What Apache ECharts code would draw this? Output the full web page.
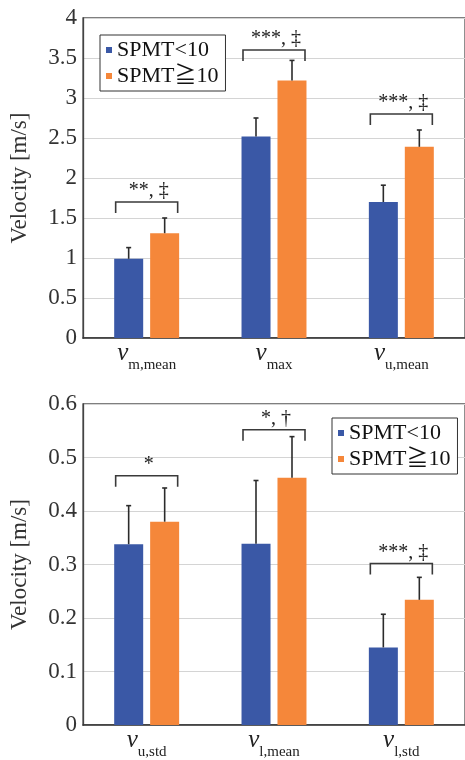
<!DOCTYPE html>
<html>
<head>
<meta charset="utf-8">
<script src="https://cdn.jsdelivr.net/npm/echarts@6/dist/echarts.min.js"></script>
<style>
  html, body { margin: 0; padding: 0; background: #ffffff; }
  #chart { width: 465px; height: 760px; }
</style>
</head>
<body>
<div id="chart"></div>
<script>
const seriesNames = ["SPMT<10", "SPMT\u226710"];

// upper panel
const topCategories = ["m,mean", "max", "u,mean"];
const topLow = [0.99, 2.52, 1.70];
const topLowSd = [0.14, 0.23, 0.21];
const topHigh = [1.31, 3.22, 2.39];
const topHighSd = [0.19, 0.25, 0.21];
const topSigLevel = [1.70, 3.60, 2.80];
const topSigText = ["**, \u2021", "***, \u2021", "***, \u2021"];

// lower panel
const bottomCategories = ["u,std", "l,mean", "l,std"];
const bottomLow = [0.338, 0.339, 0.145];
const bottomLowSd = [0.072, 0.118, 0.062];
const bottomHigh = [0.380, 0.462, 0.234];
const bottomHighSd = [0.063, 0.077, 0.042];
const bottomSigLevel = [0.466, 0.552, 0.302];
const bottomSigText = ["*", "*, \u2020", "***, \u2021"];

const blue = "#3a58a6";
const orange = "#f5873a";
const serif = "'Liberation Serif', 'Noto Sans CJK JP', serif";

const chart = echarts.init(document.getElementById("chart"));

function errorSeries(idx, values, sds, offset) {
  return {
    type: "custom",
    xAxisIndex: idx,
    yAxisIndex: idx,
    silent: true,
    z: 5,
    data: values.map((v, i) => [i, v, sds[i]]),
    renderItem: (params, api) => {
      const base = api.coord([api.value(0), api.value(1)]);
      const top = api.coord([api.value(0), api.value(1) + api.value(2)]);
      const x = base[0] + offset;
      const style = { stroke: "#2b2b2b", lineWidth: 1.6 };
      return {
        type: "group",
        children: [
          { type: "line", shape: { x1: x, y1: base[1], x2: x, y2: top[1] }, style },
          { type: "line", shape: { x1: x - 2.5, y1: top[1], x2: x + 2.5, y2: top[1] }, style }
        ]
      };
    }
  };
}

function bracketSeries(idx, levels, texts) {
  return {
    type: "custom",
    xAxisIndex: idx,
    yAxisIndex: idx,
    silent: true,
    z: 6,
    data: levels.map((v, i) => [i, v]),
    renderItem: (params, api) => {
      const p = api.coord([api.value(0), api.value(1)]);
      const half = 31;
      const drop = 11;
      return {
        type: "group",
        children: [
          {
            type: "polyline",
            shape: { points: [[p[0] - half, p[1] + drop], [p[0] - half, p[1]], [p[0] + half, p[1]], [p[0] + half, p[1] + drop]] },
            style: { stroke: "#3a3a3a", lineWidth: 1.6, fill: null }
          },
          {
            type: "text",
            style: {
              text: texts[params.dataIndex],
              x: p[0] + 2,
              y: p[1] - 1,
              align: "center",
              verticalAlign: "bottom",
              font: "20px " + serif,
              fill: "#222"
            }
          }
        ]
      };
    }
  };
}

function barSeries(idx, name, values, color) {
  return {
    type: "bar",
    name: name,
    xAxisIndex: idx,
    yAxisIndex: idx,
    data: values,
    barWidth: 29,
    barGap: "24%",
    itemStyle: { color: color }
  };
}

function xAxis(idx, cats) {
  return {
    type: "category",
    gridIndex: idx,
    data: cats,
    axisTick: { show: false },
    axisLine: { lineStyle: { color: "#333", width: 1.5 } },
    axisLabel: {
      margin: 3,
      formatter: (v) => "{v|v}{s|" + v + "}",
      rich: {
        v: { fontFamily: serif, fontStyle: "italic", fontSize: 25, color: "#222", padding: [0, 0, 7, 0], verticalAlign: "bottom" },
        s: { fontFamily: serif, fontSize: 15, color: "#222", verticalAlign: "bottom" }
      }
    }
  };
}

function yAxis(idx, max, interval) {
  return {
    type: "value",
    gridIndex: idx,
    min: 0,
    max: max,
    interval: interval,
    name: "Velocity [m/s]",
    nameLocation: "middle",
    nameRotate: 90,
    nameGap: 52,
    nameTextStyle: { fontFamily: serif, fontSize: 23, color: "#333" },
    axisLine: { show: true, lineStyle: { color: "#444", width: 1.3 } },
    axisTick: { show: false },
    axisLabel: { margin: 6, fontFamily: serif, fontSize: 23, color: "#333" },
    splitLine: { lineStyle: { color: "#d4d4d4", width: 1 } }
  };
}

function legend(left, top) {
  return {
    orient: "vertical",
    left: left,
    top: top,
    data: seriesNames,
    icon: "rect",
    itemWidth: 6,
    itemHeight: 6,
    itemGap: 4,
    padding: [4, 7, 4, 6],
    borderColor: "#333",
    borderWidth: 1,
    backgroundColor: "#fff",
    selectedMode: false,
    textStyle: { fontFamily: serif, fontSize: 22, color: "#111" }
  };
}

const option = {
  animation: false,
  backgroundColor: "#ffffff",
  textStyle: { fontFamily: serif },
  grid: [
    { left: 83, top: 18, width: 382, height: 320, show: true, borderColor: "#555", borderWidth: 1.3, backgroundColor: "transparent" },
    { left: 83, top: 404, width: 382, height: 324, show: true, borderColor: "#555", borderWidth: 1.3, backgroundColor: "transparent" }
  ],
  legend: [legend(100, 35), legend(332, 418)],
  xAxis: [xAxis(0, topCategories), xAxis(1, bottomCategories)],
  yAxis: [yAxis(0, 4, 0.5), yAxis(1, 0.6, 0.1)],
  series: [
    barSeries(0, seriesNames[0], topLow, blue),
    barSeries(0, seriesNames[1], topHigh, orange),
    errorSeries(0, topLow, topLowSd, -18),
    errorSeries(0, topHigh, topHighSd, 18),
    bracketSeries(0, topSigLevel, topSigText),
    barSeries(1, seriesNames[0], bottomLow, blue),
    barSeries(1, seriesNames[1], bottomHigh, orange),
    errorSeries(1, bottomLow, bottomLowSd, -18),
    errorSeries(1, bottomHigh, bottomHighSd, 18),
    bracketSeries(1, bottomSigLevel, bottomSigText)
  ]
};

chart.setOption(option);
</script>
</body>
</html>
